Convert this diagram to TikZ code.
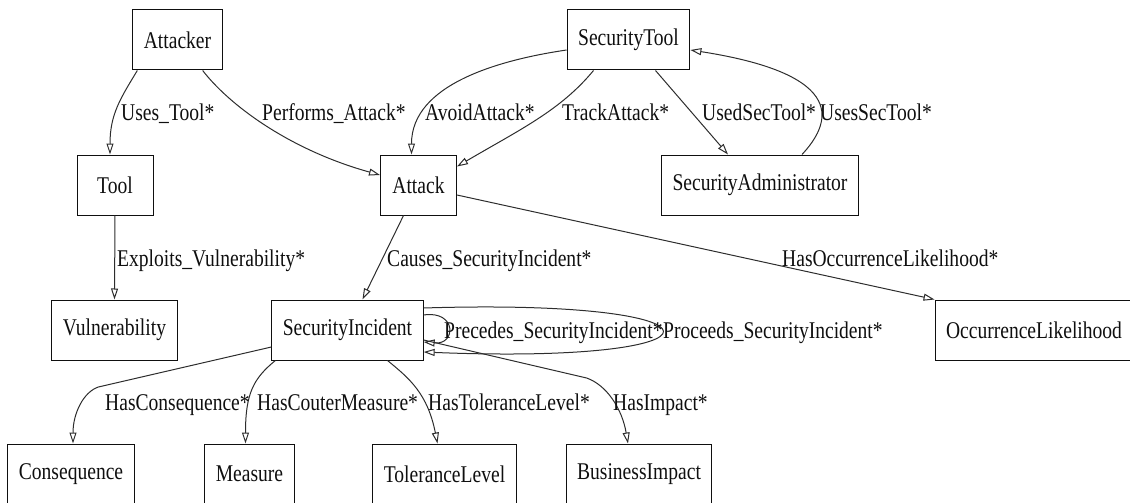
\documentclass[tikz,border=0pt]{standalone}
\usepackage{fontspec}
\setmainfont{Liberation Serif}[FakeStretch=0.815]
\usepackage{tikz}
\usetikzlibrary{arrows.meta,positioning}
\definecolor{ink}{RGB}{15,15,15}
\definecolor{wire}{RGB}{45,45,45}
\tikzset{
  cls/.style={draw=ink,line width=1pt,minimum width=76pt,minimum height=60pt,
    inner xsep=11pt,font=\fontsize{24}{27}\selectfont,text=ink},
  rel/.style={wire,line width=1pt,-{Triangle[open,length=11pt,width=7pt]}},
  tag/.style={anchor=base west,inner sep=0pt,font=\fontsize{24}{27}\selectfont,text=ink}
}

\begin{document}
\begin{tikzpicture}[x=1pt,y=-1pt]
  \useasboundingbox (0,0) rectangle (1130,503);
  % classes
  \node[cls] (attacker)   at (177.5,40)  {Attacker};
  \node[cls] (sectool)    at (628.5,40)  {SecurityTool};
  \node[cls] (tool)       at (115,185)   {Tool};
  \node[cls] (attack)     at (418.5,185) {Attack};
  \node[cls] (secadmin)   at (760,185)   {SecurityAdministrator};
  \node[cls] (vuln)       at (114.5,330) {Vulnerability};
  \node[cls] (incident)   at (347.5,330) {SecurityIncident};
  \node[cls] (likelihood) at (1034,330)  {OccurrenceLikelihood};
  \node[cls] (consequence) at (71,474)   {Consequence};
  \node[cls] (measure)    at (249.5,474) {Measure};
  \node[cls] (tolerance)  at (444.5,474) {ToleranceLevel};
  \node[cls] (impact)     at (639,474)   {BusinessImpact};

  % relations
  \draw[rel] ([xshift=5pt]attacker.south west) .. controls +(-17,28) and +(0,-40) .. ([xshift=-5pt]tool.north);
  \draw[rel] ([xshift=-20pt]attacker.south east) .. controls +(27,35) and +(-90,-25) .. ([yshift=10pt]attack.west);
  \draw[rel] ([yshift=-10pt]sectool.west) .. controls +(-68,10) and +(0,-70) .. ([xshift=-7pt]attack.north);
  \draw[rel] ([xshift=-35pt]sectool.south) .. controls +(-33,40) and +(63,-37) .. ([yshift=-12pt]attack.north east);
  \draw[rel] ([xshift=27pt]sectool.south) -- ([xshift=-32pt]secadmin.north);
  \draw[rel] ([xshift=42pt]secadmin.north) .. controls +(28,-30) and +(161,25) .. ([yshift=-10pt]sectool.east);
  \draw[rel] (tool.south) -- (vuln.north);
  \draw[rel] ([xshift=-15pt]attack.south) -- ([xshift=15pt]incident.north);
  \draw[rel] ([yshift=-10pt]attack.east) -- (likelihood.north west);
  \draw[rel] ([yshift=15pt]incident.east) .. controls +(33,-5) and +(33,3) .. ([yshift=-12pt]incident.east);
  \draw[rel] ([yshift=22pt]incident.east) .. controls +(318,-10) and +(318,13) .. ([yshift=-22pt]incident.east);
  \draw[rel] ([yshift=-17pt]incident.west) -- +(-173,40) .. controls +(-15,5) and +(0,-30) .. ([xshift=2pt]consequence.north);
  \draw[rel] ([xshift=4pt]incident.south west) .. controls +(-22,18) and +(0,-50) .. ([xshift=-4pt]measure.north);
  \draw[rel] ([xshift=40pt]incident.south) .. controls +(22,18) and +(-10,-50) .. ([xshift=-7pt]tolerance.north);
  \draw[rel] ([yshift=-10pt]incident.east) -- +(163,38) .. controls +(20,7) and +(-6,-35) .. ([xshift=-11pt]impact.north);

  % relation names
  \node[tag] (t-usestool)  at (121,121) {Uses\_Tool*};
  \node[tag] (t-performs)  at (262,121) {Performs\_Attack*};
  \node[tag] (t-avoid)     at (425,121) {AvoidAttack*};
  \node[tag] (t-track)     at (562,121) {TrackAttack*};
  \node[tag] (t-usedsec)   at (702,121) {UsedSecTool*};
  \node[tag] (t-usessec)   at (820,121) {UsesSecTool*};
  \node[tag] (t-exploits)  at (117,266) {Exploits\_Vulnerability*};
  \node[tag] (t-causes)    at (387,266) {Causes\_SecurityIncident*};
  \node[tag] (t-occur)     at (782,266) {HasOccurrenceLikelihood*};
  \node[tag] (t-precedes)  at (444,338) {Precedes\_SecurityIncident*};
  \node[tag] (t-proceeds)  at (663,338) {Proceeds\_SecurityIncident*};
  \node[tag] (t-conseq)    at (105,410) {HasConsequence*};
  \node[tag] (t-counter)   at (257,410) {HasCouterMeasure*};
  \node[tag] (t-tolerance) at (428,410) {HasToleranceLevel*};
  \node[tag] (t-impact)    at (613,410) {HasImpact*};
\end{tikzpicture}
\end{document}
